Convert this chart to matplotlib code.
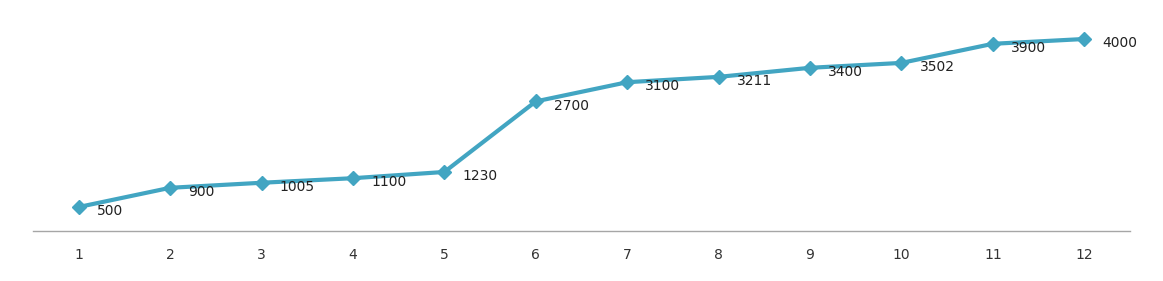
import matplotlib
matplotlib.use("Agg")
import matplotlib.pyplot as plt

# data
categories = [1, 2, 3, 4, 5, 6, 7, 8, 9, 10, 11, 12]
values = [500, 900, 1005, 1100, 1230, 2700, 3100, 3211, 3400, 3502, 3900, 4000]

LINE_COLOR = "#42A5C2"

fig = plt.figure(figsize=(11.63, 2.81), dpi=100)
ax = fig.add_axes([33/1163, 50/281, 1097/1163, 216/281])

ax.plot(categories, values, color=LINE_COLOR, linewidth=3,
        marker="D", markersize=7.5, markerfacecolor=LINE_COLOR,
        markeredgecolor=LINE_COLOR, solid_joinstyle="round")

for x, v in zip(categories, values):
    ax.annotate(str(v), (x, v), xytext=(13, -3), textcoords="offset points",
                ha="left", va="center", fontsize=10, color="#222222")

ax.set_xlim(0.5, 12.5)
ax.set_ylim(0, 4500)
ax.set_xticks(categories)
ax.set_xticklabels([str(c) for c in categories], fontsize=10, color="#333333")
ax.set_yticks([])
ax.tick_params(axis="x", length=0, pad=12)

for side in ["top", "right", "left"]:
    ax.spines[side].set_visible(False)
ax.spines["bottom"].set_color("#A6A6A6")
ax.spines["bottom"].set_linewidth(1)

fig.savefig("out.png", dpi=100)
